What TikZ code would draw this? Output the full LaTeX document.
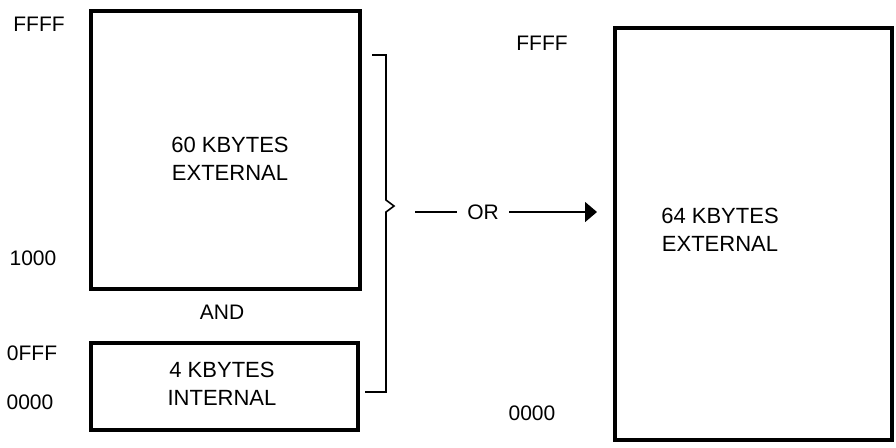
\documentclass[tikz,border=0pt]{standalone}
\usepackage{fontspec}
\setmainfont{Liberation Sans}
\usetikzlibrary{arrows.meta}

\begin{document}
\begin{tikzpicture}[x=0.5pt,y=-0.5pt,
        membox/.style={draw,line width=2pt,inner sep=0pt},
        memtext/.style={align=center,font=\fontsize{11}{14}\selectfont,inner sep=1pt},
        addr/.style={font=\fontsize{10.5}{12}\selectfont,inner sep=1pt},
        thin/.style={line width=0.8pt}]
    \useasboundingbox (0,0) rectangle (896,447);
        % memory blocks
        \node[membox,minimum width=134.5pt,minimum height=139pt] (ext60) at (225.5,150) {};
        \node[membox,minimum width=133.5pt,minimum height=43.5pt] (int4) at (224.5,386.5) {};
        \node[membox,minimum width=138.5pt,minimum height=206pt] (ext64) at (753.5,234) {};
        \node[memtext] (t60) at (230,159) {60 KBYTES\\EXTERNAL};
        \node[memtext] (t4) at (222,384) {4 KBYTES\\INTERNAL};
        \node[memtext] (t64) at (720,230) {64 KBYTES\\EXTERNAL};
        % addresses
        \node[addr] (aFFFF) at (39,24) {FFFF};
        \node[addr] (a1000) at (33,258) {1000};
        \node[addr] (a0FFF) at (32,353) {0FFF};
        \node[addr] (a0000) at (30,402) {0000};
        \node[addr] (bFFFF) at (542,43) {FFFF};
        \node[addr] (b0000) at (532,413) {0000};
        \node[addr] (and) at (222,312) {AND};
        \node[addr] (or) at (483,212) {OR};
        % brace
        \coordinate (btop) at (372,55);
        \coordinate (bbot) at (365,392);
        \coordinate (btip) at (394,206);
        \draw[thin] (btop) -- (386,55) -- (386,200) -- (btip) -- (386,212) -- (386,392) -- (bbot);
        \draw[thin,shorten <=21pt/2,shorten >=4pt] (btip |- or) -- (or.west);
        \draw[thin,-{Triangle[length=6pt,width=10pt]},shorten <=4pt,shorten >=8pt] (or.east) -- (ext64.west |- or);
    \end{tikzpicture}
\end{document}
